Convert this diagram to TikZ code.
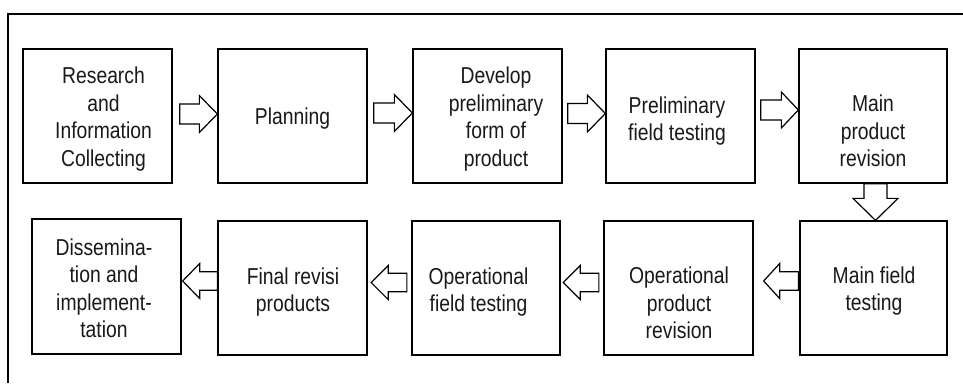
\documentclass[tikz,border=0pt]{standalone}
\usepackage{fontspec}
\setmainfont{Liberation Sans}[FakeStretch=0.84]
\usetikzlibrary{calc}
\tikzset{
  stepbox/.style={draw=black, line width=1.3pt, minimum width=149pt, minimum height=134pt, inner sep=0pt, fill=white},
  txt/.style={align=center, inner sep=0pt, font=\fontsize{23}{27.5}\selectfont, text=black!90},
  blk/.style={draw=black, line width=1.2pt, fill=white, line join=miter},
  frame/.style={draw=black, line width=1.3pt}
}
% horizontal block arrow: tail, tip, shaft half, head half, signed head length
\newcommand{\harr}[5]{\draw[blk] let \p1=(#1), \p2=(#2) in
  (\x1,\y2+#3) -- (\x2-#5,\y2+#3) -- (\x2-#5,\y2+#4) -- (\x2,\y2) --
  (\x2-#5,\y2-#4) -- (\x2-#5,\y2-#3) -- (\x1,\y2-#3) -- cycle;}
% vertical (downward) block arrow
\newcommand{\varr}[5]{\draw[blk] let \p1=(#1), \p2=(#2) in
  (\x2+#3,\y1) -- (\x2+#3,\y2+#5) -- (\x2+#4,\y2+#5) -- (\x2,\y2) --
  (\x2-#4,\y2+#5) -- (\x2-#3,\y2+#5) -- (\x2-#3,\y1) -- cycle;}
\begin{document}
\begin{tikzpicture}[x=1pt,y=-1pt]
\useasboundingbox (0,0) rectangle (963,383);
\fill[white] (0,0) rectangle (963,383);
\draw[frame] (8,383) -- (8,14) -- (963,14);

% top row
\node[stepbox] (b1) at (97.5,116) {};
\node[stepbox] (b2) at (292.5,116) {};
\node[stepbox] (b3) at (487.5,116) {};
\node[stepbox] (b4) at (680.5,116) {};
\node[stepbox, minimum width=148pt] (b5) at (873,116) {};
% bottom row
\node[stepbox, minimum width=147pt] (b6) at (873.5,288) {};
\node[stepbox] (b7) at (678.5,288) {};
\node[stepbox, minimum width=148pt] (b8) at (486,288) {};
\node[stepbox] (b9) at (292.5,288) {};
\node[stepbox, minimum height=135pt] (b10) at (106.5,286.5) {};

% texts
\node[txt] (t1) at (103.5,119.25) {Research\\and\\Information\\Collecting};
\node[txt] (t2) at (292.5,119) {Planning};
\node[txt] (t3) at (496,119.25) {Develop\\preliminary\\form of\\product};
\node[txt] (t4) at (677,121.25) {Preliminary\\field testing};
\node[txt] (t5) at (873,131) {Main\\product\\revision};
\node[txt] (t6) at (874,291) {Main field\\testing};
\node[txt] (t7) at (679,303) {Operational\\product\\revision};
\node[txt] (t8) at (478.5,292.25) {Operational\\field testing};
\node[txt] (t9) at (293,292.25) {Final revisi\\products};
\node[txt] (t10) at (104,288.35) {Dissemina-\\tion and\\implement-\\tation};

% arrows top row
\harr{$(b1.east)+(7,-2)$}{$(b2.west)+(0,-2)$}{10pt}{18.5pt}{18pt}
\harr{$(b2.east)+(6,-3)$}{$(b3.west)+(0,-3)$}{10pt}{18.5pt}{18pt}
\harr{$(b3.east)+(5,-2.5)$}{$(b4.west)+(0,-2.5)$}{10pt}{18.5pt}{18pt}
\harr{$(b4.east)+(5,-6)$}{$(b5.west)+(0,-6)$}{10pt}{18pt}{17pt}
% down arrow
\varr{$(b5.south)+(2.5,0)$}{$(b6.north)+(2,0)$}{11.5pt}{22.5pt}{22pt}
% arrows bottom row
\harr{$(b6.west)+(-1,-7)$}{$(b7.east)+(10,-7)$}{9.2pt}{17.5pt}{-16pt}
\harr{$(b7.west)+(-4.5,-5.5)$}{$(b8.east)+(2.5,-5.5)$}{9.2pt}{17pt}{-17pt}
\harr{$(b8.west)+(-4.5,-5.5)$}{$(b9.east)+(3.5,-5.5)$}{9.2pt}{17pt}{-17pt}
\harr{$(b9.west)+(0,-7)$}{$(b10.east)+(1,-5.5)$}{9.2pt}{17.5pt}{-17pt}
\end{tikzpicture}
\end{document}
